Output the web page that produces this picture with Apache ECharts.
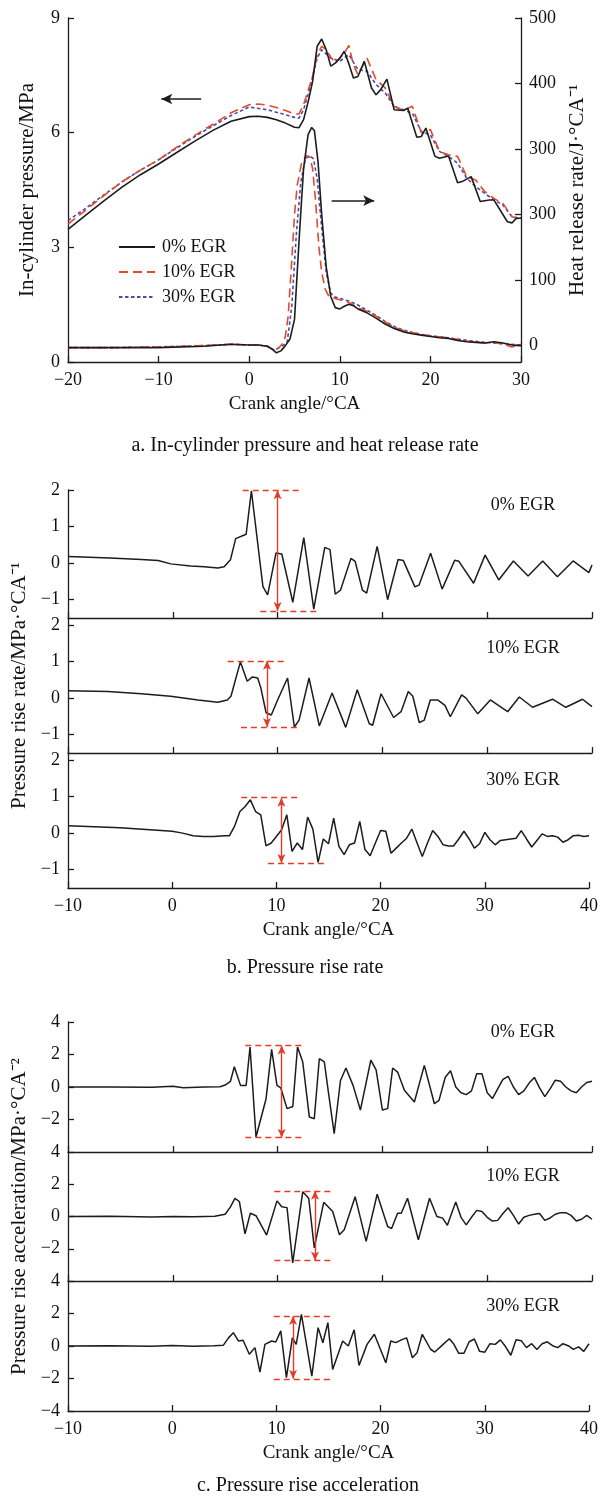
<!DOCTYPE html>
<html><head><meta charset="utf-8">
<script src="https://cdn.jsdelivr.net/npm/echarts@6/dist/echarts.min.js"></script>
<style>html,body{margin:0;padding:0;background:#fff}#c{width:601px;height:1496px}</style>
</head><body><div id="c"></div><script>
// ---------- (a) in-cylinder pressure (MPa) ----------
const caP0 = [-20,-18,-16,-14,-12,-10,-8,-6,-4,-2,0,1,2,3,4,5,5.5,6,6.5,7,7.5,8,8.5,9,9.5,10,10.5,11,11.5,12,12.7,13.5,14,14.5,15.2,16,17,17.5,18.5,19,19.5,20.5,21,22,23,23.5,24.5,25.5,26.5,27,28.5,29,29.5,30];
const p0   = [3.47,3.85,4.22,4.58,4.90,5.18,5.48,5.78,6.06,6.30,6.42,6.43,6.40,6.34,6.25,6.14,6.13,6.34,6.80,7.34,8.26,8.45,8.17,7.74,7.82,7.95,8.13,7.80,7.43,7.47,7.87,7.17,6.99,7.12,7.40,6.60,6.58,6.64,5.88,5.90,6.12,5.38,5.33,5.39,4.69,4.72,4.85,4.20,4.24,4.24,3.67,3.64,3.76,3.76];
const caP10 = [-20,-18,-16,-14,-12,-10,-8,-6,-4,-2,0,1,2,3,4,5,5.5,6,6.5,7,7.5,8,8.5,9,9.5,10,10.5,11,11.5,12,13,14,15,16,17,18,19,20,21,22,23,24,25,26,27,28,29,30];
const p10   = [3.61,3.98,4.36,4.72,5.02,5.29,5.62,5.93,6.22,6.52,6.73,6.75,6.72,6.66,6.58,6.49,6.49,6.73,7.10,7.47,8.04,8.26,8.17,7.98,7.82,7.95,8.08,8.28,7.78,7.52,7.95,7.39,7.17,6.69,6.58,6.69,6.00,6.08,5.51,5.42,5.38,4.85,4.76,4.46,4.28,4.15,3.80,3.72];
const caP30 = [-20,-18,-16,-14,-12,-10,-8,-6,-4,-2,0,2,4,5,5.5,6,6.5,7,7.5,8,9,10,11,12,13,14,15,16,17,18,19,20,21,22,23,24,25,26,27,28,29,30];
const p30   = [3.70,4.03,4.38,4.72,5.02,5.29,5.60,5.90,6.18,6.45,6.67,6.60,6.47,6.40,6.38,6.60,7.00,7.47,7.95,8.17,7.95,7.87,8.04,7.65,7.61,7.26,7.04,6.69,6.60,6.51,6.03,5.94,5.51,5.38,5.20,4.81,4.59,4.41,4.24,4.11,3.80,3.76];
// ---------- (a) heat release rate (J/°CA) ----------
const caH0 = [-20,-15,-10,-5,-2,0,1,2,2.5,3,3.5,4,4.5,5,5.5,6,6.5,6.9,7.2,7.6,8,8.5,9,9.5,10,10.5,11,11.5,12,13,14,15,16,17,18,19,20,21,22,23,24,25,26,27,28,29,30];
const h0   = [-3,-3,-3,-1,2,1,1,-1,-5,-11,-8,0,10,40,160,270,322,333,328,280,200,120,75,58,56,60,63,61,56,50,42,33,26,21,18,16,14,12,11,8,6,5,4,6,4,1,0];
const caH10 = [-20,-15,-10,-5,-2,0,1,2,2.8,3.3,3.8,4.0,4.3,4.7,5.0,5.3,5.8,6.3,6.7,7.0,7.3,7.7,8.0,8.4,8.8,9.5,10,11,12,13,14,15,16,17,18,19,20,22,24,26,27,28,29,30];
const h10   = [-3,-3,-2,0,2,1,1,-1,-8,-3,5,15,45,130,200,245,280,290,288,270,225,150,112,86,75,72,70,66,58,52,45,36,28,23,20,17,15,12,7,4,5,2,-2,2];
const caH30 = [-20,-15,-10,-5,-2,0,1,2,2.8,3.3,3.8,4.2,4.7,5.2,5.7,6.2,6.7,7.1,7.5,8.0,8.5,9.0,9.5,10,11,12,13,14,15,16,17,18,19,20,22,24,26,28,30];
const h30   = [-3,-3,-2,0,2,1,1,-1,-7,-3,1,6,60,170,250,285,290,285,255,180,112,80,74,72,68,62,54,46,37,29,24,20,17,15,12,8,5,3,1];
const hrrTickValues = [0,100,200,300,400,500];
const hrrTickLabels = ['0','100','300','300','400','500'];
// direction arrows of (a): [from, to, level]
const arrowLeft  = [-5.3, -9.7, 6.88];
const arrowRight = [9.1, 13.8, 4.22];

// ---------- (b) pressure rise rate (MPa/°CA) ----------
const caB0 = [-10,-6,-3,-1.4,-0.2,1.7,3,4.3,4.9,5.5,6.0,7.0,7.5,8.6,9.05,9.85,10.4,11.45,12.5,13.45,14.5,15.0,15.5,16.0,17.0,17.4,18.1,18.5,19.5,20.5,21.5,22.0,23.1,23.5,24.6,25.7,26.9,27.3,28.7,29.8,31.1,32.5,33.9,35.3,36.7,38.2,39.7,40];
const rB0  = [0.18,0.14,0.1,0.07,-0.02,-0.08,-0.1,-0.13,-0.1,0.09,0.67,0.79,1.98,-0.64,-0.87,0.28,0.25,-1.07,0.7,-1.26,0.43,0.37,-0.85,-0.74,0.13,0.05,-0.74,-0.82,0.46,-1.0,0.1,0.07,-0.65,-0.6,0.27,-0.71,0.08,0.05,-0.55,0.22,-0.46,0.06,-0.35,0.06,-0.37,0.06,-0.26,-0.05];
const caB10 = [-10,-6.2,-3,-0.2,2.4,4.3,5.2,5.55,6.45,7.1,7.6,8.1,8.4,8.9,9.4,10.0,10.95,11.6,12.05,13.0,13.98,15.2,16.5,17.6,18.75,19.07,19.87,21.07,21.78,22.47,22.9,23.52,24.0,24.57,25.27,25.97,26.48,27.56,27.98,29.1,30.3,31.95,33.06,34.33,36.24,37.5,39.1,40];
const rB10  = [0.2,0.18,0.12,0.05,-0.05,-0.11,-0.05,0.05,0.99,0.46,0.58,0.55,0.28,-0.4,-0.46,-0.05,0.55,-0.79,-0.6,0.55,-0.76,0.14,-0.8,0.23,-0.7,-0.74,0.12,-0.53,-0.37,0.18,0.05,-0.67,-0.6,-0.05,-0.05,-0.2,-0.51,0.09,0.0,-0.43,-0.05,-0.37,0.03,-0.25,-0.03,-0.25,-0.03,-0.23];
const caB30 = [-10,-5,0,1,2,3,4,5,5.5,6,6.5,7,7.5,8,8.5,9,9.5,10,10.5,11,11.5,12,12.5,13,13.5,14,14.5,15,15.5,16,16.5,17,17.5,18,18.5,19,19.5,20,20.5,21,21.5,22,22.5,23,23.5,24,24.5,25,25.5,26,26.5,27,27.5,28,28.5,29,29.5,30,30.5,31,31.5,32,32.5,33,33.5,34,34.5,35,35.5,36,36.5,37,37.5,38,38.5,39,39.5,40];
const rB30  = [0.2,0.15,0.05,0,-0.07,-0.09,-0.09,-0.07,-0.07,0.2,0.59,0.73,0.91,0.59,0.5,-0.35,-0.27,-0.09,0.09,0.5,-0.5,-0.27,-0.45,0.44,0.11,-0.8,-0.16,-0.29,0.41,-0.36,-0.59,-0.32,-0.27,0.32,-0.45,-0.62,-0.27,0.07,0.05,-0.55,-0.41,-0.27,-0.14,0.11,-0.27,-0.64,-0.27,0.07,-0.09,-0.32,-0.35,-0.35,-0.16,0.05,-0.16,-0.41,-0.29,0.02,-0.18,-0.32,-0.2,-0.18,-0.16,-0.14,0.07,-0.16,-0.38,-0.2,-0.02,-0.09,-0.07,-0.11,-0.25,-0.18,-0.07,-0.06,-0.09,-0.07];
// amplitude markers of (b): one entry per panel
const annB_top = [1.99, 1.02, 0.97];
const annB_topFrom = [6.67, 5.24, 6.62];
const annB_topTo = [12.3, 10.9, 12.3];
const annB_bot = [-1.31, -0.79, -0.82];
const annB_botFrom = [8.35, 6.5, 9.19];
const annB_botTo = [13.98, 12.07, 14.9];
const annB_arrow = [10.0, 8.99, 10.48];

// ---------- (c) pressure rise acceleration (MPa/°CA²) ----------
const caC0 = [-10,-6,-2,0,1,3,4.5,5,5.5,5.87,6.46,7.0,7.37,7.94,8.9,9.43,9.94,10.3,10.9,11.45,11.9,12.4,13.03,13.5,13.98,14.46,14.8,15.4,16.0,16.52,17.2,17.9,18.9,19.4,20.0,20.5,20.98,21.45,22.1,23.05,24.0,24.96,25.4,26.0,26.5,27.0,27.5,28,28.5,29,29.5,30,30.5,31,31.5,32,32.5,33,33.5,34,34.5,35,35.5,36,36.5,37,37.5,38,38.5,39,39.5,40];
const aC0  = [0,0,-0.02,0.05,-0.05,0,0.02,0.12,0.35,1.25,0.1,0.1,2.46,-3.08,-0.72,2.32,0.1,-0.05,-1.33,-1.2,2.46,1.54,-1.85,-1.95,1.74,1.54,-0.1,-2.87,0.4,1.17,0.1,-1.42,1.66,1.05,-1.42,-1.33,1.17,0.92,-0.2,-0.92,1.33,-1.03,-0.82,0.6,1.0,0,-0.35,-0.47,-0.24,0.82,0.82,-0.35,-0.71,-0.12,0.47,0.66,0,-0.47,-0.24,0.24,0.59,-0.05,-0.59,-0.12,0.42,0.35,0,-0.24,-0.35,0,0.28,0.35];
const caC10 = [-10,-6,-2,0,2,4,5,5.5,5.93,6.35,6.89,7.4,7.94,8.95,9.94,10.4,10.9,11.44,12.4,12.97,13.5,14.4,15.26,15.9,16.36,17.4,18.45,19.5,20.5,20.88,21.45,21.8,22.4,23.43,24.5,25.2,25.75,26.2,26.6,27,27.5,28,28.5,29,29.5,30,30.5,31,31.5,32,32.5,33,33.5,34,34.5,35,35.5,36,36.5,37,37.5,38,38.5,39,39.5,40];
const aC10  = [0,0.02,-0.03,0,-0.02,0.02,0.14,0.6,1.13,0.93,-1.08,0.2,0.05,-1.15,0.97,0.6,0.55,-2.88,1.54,1.13,-1.95,0.88,0.31,-1.13,-0.82,1.23,-1.54,1.38,-0.62,-0.75,0.2,0.2,1.13,-1.44,1.13,0,-0.1,-0.55,0.19,0.9,-0.05,-0.52,-0.05,0.38,0.31,-0.05,-0.28,-0.24,0.19,0.54,0.07,-0.47,-0.05,0.07,0.14,0.19,-0.24,-0.09,0.14,0.24,0.24,0.07,-0.28,-0.17,0.07,-0.17];
const caC30 = [-10,-6,-2,0,2,4,4.9,5.4,5.87,6.35,6.8,7.4,7.94,8.42,8.9,9.55,9.94,10.42,10.96,11.53,11.9,12.4,13.4,14.0,14.46,14.94,15.4,16.36,16.9,17.46,17.93,18.7,19.4,20.5,20.98,21.45,22.1,22.5,23.05,23.5,24.0,24.8,25.2,26.0,26.6,27,27.5,28,28.5,29,29.5,30,30.5,31,31.5,32,32.5,33,33.5,34,34.5,35,35.5,36,36.5,37,37.5,38,38.5,39,39.5,40];
const aC30  = [0,0.02,-0.02,0.03,-0.02,0.02,0.04,0.5,0.82,0.31,0.35,-0.51,-0.1,-1.6,0.1,0.31,0.25,0.93,-1.95,0.5,0.1,1.95,-1.85,1.13,0.2,1.44,-1.44,0.31,0,1.0,-1.2,0.1,0.72,-1.03,0.31,0.21,0.41,0.5,-0.72,-0.41,0.72,-0.2,-0.37,0.1,0.45,0.14,-0.45,-0.45,0.26,0.43,-0.33,-0.38,0.14,0.1,0.38,-0.05,-0.57,0.38,0.33,-0.1,0.14,-0.21,0.14,0.26,0.02,-0.1,0.14,0.02,-0.21,-0.05,-0.33,0.14];
const annC_top = [2.55, 1.59, 1.85];
const annC_topFrom = [6.92, 9.69, 9.75];
const annC_topTo = [12.4, 15.35, 15.4];
const annC_bot = [-3.12, -2.73, -2.02];
const annC_botFrom = [6.92, 9.69, 9.75];
const annC_botTo = [12.4, 15.35, 15.4];
const annC_arrow = [10.39, 13.57, 11.6];

const egrNames = ['0% EGR','10% EGR','30% EGR'];
const rateTicks = [-1,0,1,2];
const accTicksUpper = [-2,0,2,4];
const accTicksLower = [-4,-2,0,2,4];

// ---------- rendering ----------
const FONT = "'Liberation Serif','Times New Roman',serif";
const INK = '#1c1c1c';
const RED = '#e5492c';
const BLUE = '#4b4bab';
const ANN = '#e23c28';
const FS = 18;      // tick labels, legend, panel labels
const FS_X = 19;    // x-axis titles
const FS_Y = 21;    // y-axis titles
const FS_CAP = 20;  // captions
const pairs = (xs, ys) => xs.map((x, i) => [x, ys[i]]);
const fmt = v => (v < 0 ? '\u2212' + Math.abs(v) : String(v));

const chart = echarts.init(document.getElementById('c'), null, {renderer: 'canvas', width: 601, height: 1496});

const grids = [
  {left: 68, top: 18, width: 453, height: 344},
  {left: 68, top: 490, width: 524, height: 128},
  {left: 68, top: 618, width: 524, height: 135},
  {left: 68, top: 753, width: 524, height: 135},
  {left: 68, top: 1022, width: 524, height: 130},
  {left: 68, top: 1152, width: 524, height: 129},
  {left: 68, top: 1281, width: 524, height: 130}
];

const lineAx = {show: true, onZero: false, lineStyle: {color: INK, width: 1.3}};
const tickAx = (extra) => Object.assign({show: true, inside: true, length: 6, lineStyle: {color: INK, width: 1.3}}, extra || {});
const lblAx = (extra) => Object.assign({color: '#111', fontFamily: FONT, fontSize: FS, formatter: fmt}, extra || {});

function xAx(g, min, max, showLabel, withName) {
  return {
    type: 'value', gridIndex: g, min: min, max: max, interval: 10, position: 'bottom',
    axisLine: lineAx, axisTick: tickAx(), splitLine: {show: false},
    axisLabel: lblAx({show: showLabel, margin: 9}),
    name: withName ? 'Crank angle/\u00B0CA' : '', nameLocation: 'middle', nameGap: 33,
    nameTextStyle: {color: '#111', fontFamily: FONT, fontSize: FS_X}
  };
}
function yAx(g, min, max, ticks, name, extra) {
  return Object.assign({
    type: 'value', gridIndex: g, min: min, max: max, position: 'left',
    axisLine: lineAx, splitLine: {show: false},
    axisTick: tickAx({customValues: ticks}),
    axisLabel: lblAx({customValues: ticks, margin: 8}),
    name: name || '', nameLocation: 'middle', nameRotate: 90, nameGap: 36,
    nameTextStyle: {color: '#111', fontFamily: FONT, fontSize: FS_Y}
  }, extra || {});
}

const xAxis = [
  xAx(0, -20, 30, true, true),
  xAx(1, -10, 40, false, false), xAx(2, -10, 40, false, false), xAx(3, -10, 40, true, true),
  xAx(4, -10, 40, false, false), xAx(5, -10, 40, false, false), xAx(6, -10, 40, true, true)
];
const yAxis = [
  yAx(0, 0, 9, [0,3,6,9], 'In-cylinder pressure/MPa', {nameGap: 30}),
  {
    type: 'value', gridIndex: 0, min: -25, max: 500, position: 'right',
    axisLine: lineAx, splitLine: {show: false},
    axisTick: tickAx({customValues: hrrTickValues}),
    axisLabel: lblAx({customValues: hrrTickValues, margin: 8,
      formatter: v => hrrTickLabels[hrrTickValues.indexOf(v)]}),
    name: 'Heat release rate/J\u00B7\u00B0CA\u207B\u00B9', nameLocation: 'middle', nameRotate: 90, nameGap: 40,
    nameTextStyle: {color: '#111', fontFamily: FONT, fontSize: FS_Y}
  },
  yAx(1, -1.5, 2, rateTicks),
  yAx(2, -1.5, 2.19, rateTicks, 'Pressure rise rate/MPa\u00B7\u00B0CA\u207B\u00B9'),
  yAx(3, -1.5, 2.19, rateTicks),
  yAx(4, -4, 4, accTicksUpper),
  yAx(5, -4, 4, accTicksUpper, 'Pressure rise acceleration/MPa\u00B7\u00B0CA\u207B\u00B2'),
  yAx(6, -4, 4, accTicksLower)
];

function lineSeries(name, xi, yi, data, color, type, width, extra) {
  return Object.assign({
    name: name, type: 'line', xAxisIndex: xi, yAxisIndex: yi, data: data,
    showSymbol: false, symbol: 'none', symbolSize: 0, smooth: false, animation: false, silent: true,
    lineStyle: {color: color, width: width, type: type}, itemStyle: {color: color},
    emphasis: {disabled: true}
  }, extra || {});
}
function annMarks(top, tf, tt, bot, bf, bt, ax) {
  const dash = {color: ANN, type: [6, 4], width: 1.4};
  const solid = {color: ANN, type: 'solid', width: 1.4};
  return {
    silent: true, animation: false, label: {show: false}, emphasis: {disabled: true},
    symbol: ['none', 'none'],
    data: [
      [{coord: [tf, top], symbol: 'none', lineStyle: dash}, {coord: [tt, top], symbol: 'none'}],
      [{coord: [bf, bot], symbol: 'none', lineStyle: dash}, {coord: [bt, bot], symbol: 'none'}],
      [{coord: [ax, top], symbol: 'arrow', symbolSize: [6, 9], lineStyle: solid, itemStyle: {color: ANN}},
       {coord: [ax, bot], symbol: 'arrow', symbolSize: [6, 9]}]
    ]
  };
}
const dirArrows = {
  silent: true, animation: false, label: {show: false}, emphasis: {disabled: true},
  symbol: ['none', 'arrow'], symbolSize: [8, 11],
  lineStyle: {color: INK, width: 1.5, type: 'solid'}, itemStyle: {color: INK},
  data: [
    [{coord: [arrowLeft[0], arrowLeft[2]]}, {coord: [arrowLeft[1], arrowLeft[2]]}],
    [{coord: [arrowRight[0], arrowRight[2]]}, {coord: [arrowRight[1], arrowRight[2]]}]
  ]
};

const series = [
  lineSeries(egrNames[0], 0, 0, pairs(caP0, p0), INK, 'solid', 1.6, {markLine: dirArrows, z: 4}),
  lineSeries(egrNames[1], 0, 0, pairs(caP10, p10), RED, [9, 5], 1.6, {z: 3}),
  lineSeries(egrNames[2], 0, 0, pairs(caP30, p30), BLUE, [3.5, 2.5], 1.6, {z: 2}),
  lineSeries(egrNames[0], 0, 1, pairs(caH0, h0), INK, 'solid', 1.6, {z: 4}),
  lineSeries(egrNames[1], 0, 1, pairs(caH10, h10), RED, [9, 5], 1.6, {z: 3}),
  lineSeries(egrNames[2], 0, 1, pairs(caH30, h30), BLUE, [3.5, 2.5], 1.6, {z: 2})
];
const rateSets = [[caB0, rB0], [caB10, rB10], [caB30, rB30]];
rateSets.forEach((s, i) => {
  series.push(lineSeries('rate' + i, 1 + i, 2 + i, pairs(s[0], s[1]), INK, 'solid', 1.5, {
    markLine: annMarks(annB_top[i], annB_topFrom[i], annB_topTo[i], annB_bot[i], annB_botFrom[i], annB_botTo[i], annB_arrow[i])
  }));
});
const accSets = [[caC0, aC0], [caC10, aC10], [caC30, aC30]];
accSets.forEach((s, i) => {
  series.push(lineSeries('acc' + i, 4 + i, 5 + i, pairs(s[0], s[1]), INK, 'solid', 1.5, {
    markLine: annMarks(annC_top[i], annC_topFrom[i], annC_topTo[i], annC_bot[i], annC_botFrom[i], annC_botTo[i], annC_arrow[i])
  }));
});

const txt = (t, x, y, size) => ({
  type: 'text', x: x, y: y, silent: true,
  style: {text: t, fill: '#111', font: (size || FS) + 'px ' + FONT, align: 'center', verticalAlign: 'middle',
          textAlign: 'center', textVerticalAlign: 'middle'}
});

chart.setOption({
  animation: false,
  backgroundColor: '#ffffff',
  grid: grids,
  xAxis: xAxis,
  yAxis: yAxis,
  legend: {
    data: egrNames, orient: 'vertical', left: 113, top: 233, itemWidth: 36, itemHeight: 12, itemGap: 7,
    selectedMode: false, itemStyle: {opacity: 0, borderWidth: 0},
    textStyle: {fontFamily: FONT, fontSize: FS, color: '#111', padding: [0, 0, 0, 2]}
  },
  series: series,
  graphic: [
    txt('a. In-cylinder pressure and heat release rate', 305, 446, FS_CAP),
    txt('b. Pressure rise rate', 305, 968, FS_CAP),
    txt('c. Pressure rise acceleration', 308, 1486, FS_CAP),
    txt(egrNames[0], 523, 505), txt(egrNames[1], 523, 648), txt(egrNames[2], 523, 780),
    txt(egrNames[0], 523, 1032), txt(egrNames[1], 523, 1176), txt(egrNames[2], 523, 1306)
  ]
});
</script></body></html>
